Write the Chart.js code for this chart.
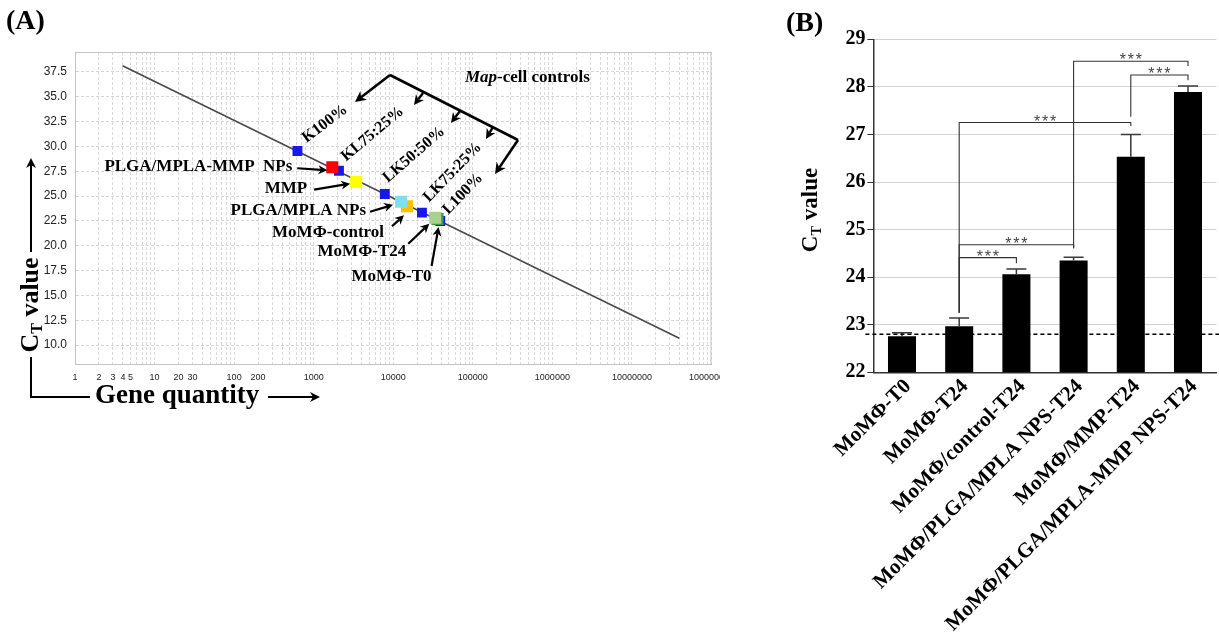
<!DOCTYPE html>
<html><head><meta charset="utf-8">
<script src="https://cdn.jsdelivr.net/npm/chart.js@4.4.1/dist/chart.umd.min.js"></script>
<style>
html,body{margin:0;padding:0;background:#fff;}
#wrap{position:relative;width:1219px;height:638px;overflow:hidden;background:#fff;}
#cA{position:absolute;left:0;top:0;}
#cB{position:absolute;left:760px;top:0;}
</style></head><body>
<div id="wrap"><canvas id="cA" width="720" height="430"></canvas><canvas id="cB" width="459" height="638"></canvas></div>
<script>
// ---------- Panel A data ----------
const controlNames = ['K100%', 'KL75:25%', 'LK50:50%', 'LK75:25%', 'L100%'];
const controlQty = [625, 2078, 7830, 22950, 38990];
const controlCt = [29.54, 27.55, 25.21, 23.33, 22.49];

const sampleNames = ['MoMΦ-T0', 'MoMΦ-T24', 'MoMΦ-control', 'PLGA/MPLA NPs', 'MMP', 'PLGA/MPLA-MMP  NPs'];
const sampleQty = [36060, 33730, 14890, 12530, 3420, 1714];
const sampleCt = [22.69, 22.82, 23.97, 24.43, 26.45, 27.90];
const sampleColors = ['#3a9a44', '#a9d18e', '#ffc000', '#7fdfec', '#ffff00', '#ff0000'];

const curveQty = [3.96, 39400000];
const curveCt = [38.12, 10.69];

const yTicksA = [10, 12.5, 15, 17.5, 20, 22.5, 25, 27.5, 30, 32.5, 35, 37.5];
const xLabelsA = [1, 2, 3, 4, 5, 10, 20, 30, 100, 200, 1000, 10000, 100000, 1000000, 10000000, 100000000];

// ---------- Panel B data ----------
const categoriesB = ['MoMΦ-T0', 'MoMΦ-T24', 'MoMΦ/control-T24', 'MoMΦ/PLGA/MPLA NPS-T24', 'MoMΦ/MMP-T24', 'MoMΦ/PLGA/MPLA-MMP NPS-T24'];
const ctMeanB = [22.76, 22.97, 24.06, 24.35, 26.53, 27.89];
const ctErrB = [0.07, 0.17, 0.11, 0.07, 0.47, 0.13];
const baselineB = 22.8;
const yTicksB = [22, 23, 24, 25, 26, 27, 28, 29];
const cmpFrom = [1, 1, 1, 3, 4];
const cmpTo = [2, 3, 4, 5, 5];
const cmpLevel = [24.41, 24.68, 27.25, 28.54, 28.25];
const cmpLeftBottom = [23.25, 23.25, 23.25, 24.61, 27.37];
const cmpRightBottom = [24.29, 24.61, 27.18, 28.44, 28.14];
const cmpLabel = ['***', '***', '***', '***', '***'];

// ---------- helpers ----------
const SERIF = '"Liberation Serif", "Times New Roman", serif';
const SANS = '"Liberation Sans", Arial, sans-serif';
function arrow(ctx, x1, y1, x2, y2, lw, head) {
  const a = Math.atan2(y2 - y1, x2 - x1);
  ctx.lineWidth = lw;
  ctx.beginPath(); ctx.moveTo(x1, y1);
  ctx.lineTo(x2 - Math.cos(a) * head * 0.7, y2 - Math.sin(a) * head * 0.7); ctx.stroke();
  ctx.beginPath(); ctx.moveTo(x2, y2);
  ctx.lineTo(x2 - head * Math.cos(a) + head * 0.5 * Math.sin(a), y2 - head * Math.sin(a) - head * 0.5 * Math.cos(a));
  ctx.lineTo(x2 - head * 0.7 * Math.cos(a), y2 - head * 0.7 * Math.sin(a));
  ctx.lineTo(x2 - head * Math.cos(a) - head * 0.5 * Math.sin(a), y2 - head * Math.sin(a) + head * 0.5 * Math.cos(a));
  ctx.closePath(); ctx.fill();
}
function drawCT(ctx, cx, cy, size) {
  ctx.save(); ctx.translate(cx, cy); ctx.rotate(-Math.PI / 2);
  const f = s => `bold ${s}px ${SERIF}`;
  ctx.font = f(size); const wC = ctx.measureText('C').width; const wV = ctx.measureText(' value').width;
  ctx.font = f(size * 0.62); const wT = ctx.measureText('T').width;
  const x0 = -(wC + wT + wV) / 2; const base = size * 0.33;
  ctx.textBaseline = 'alphabetic'; ctx.textAlign = 'left'; ctx.fillStyle = '#000';
  ctx.font = f(size); ctx.fillText('C', x0, base);
  ctx.font = f(size * 0.62); ctx.fillText('T', x0 + wC, base + size * 0.18);
  ctx.font = f(size); ctx.fillText(' value', x0 + wC + wT, base);
  ctx.restore();
}

// ---------- Panel A ----------
const ctrlLabelPos = [[9, -8, -37], [7, -9, -40], [3, -11, -41], [7, -10, -46], [8, -6, -46]];
const sampleLabelPos = [
  [-6, 58, -6, 47, 1, 8],
  [-29, 34, -27, 26, -6, 6],
  [-23, 26, -15, 20, -3, 9],
  [-35, 9, -31, 10, -8, 3],
  [-49, 7, -42, 8, -6, 2],
  [-40, -1, -35, 1, -5, 3]
];
const annotA = {
  id: 'annotA',
  beforeDatasetsDraw(chart) {
    const { ctx, chartArea: ca } = chart;
    ctx.save(); ctx.strokeStyle = '#c4c4c4'; ctx.lineWidth = 1;
    ctx.strokeRect(ca.left + 0.5, ca.top + 0.5, ca.right - ca.left - 1, ca.bottom - ca.top);
    ctx.restore();
  },
  afterDraw(chart) {
    const { ctx, chartArea: ca, scales: { x, y } } = chart;
    ctx.save();
    ctx.fillStyle = '#000'; ctx.strokeStyle = '#000';
    ctx.font = `bold 16px ${SERIF}`; ctx.textAlign = 'left'; ctx.textBaseline = 'alphabetic';
    controlNames.forEach((n, i) => {
      const px = x.getPixelForValue(controlQty[i]), py = y.getPixelForValue(controlCt[i]);
      const [dx, dy, ang] = ctrlLabelPos[i];
      ctx.save(); ctx.translate(px + dx, py + dy); ctx.rotate(ang * Math.PI / 180);
      ctx.fillText(n, 0, 0); ctx.restore();
    });
    ctx.font = `bold 17px ${SERIF}`; ctx.textAlign = 'right'; ctx.textBaseline = 'middle';
    sampleNames.forEach((n, i) => {
      const px = x.getPixelForValue(sampleQty[i]), py = y.getPixelForValue(sampleCt[i]);
      const p = sampleLabelPos[i];
      ctx.fillText(n, px + p[0], py + p[1]);
      arrow(ctx, px + p[2], py + p[3], px + p[4], py + p[5], 2.2, 9);
    });
    const L = ca.left, T = ca.top;
    ctx.lineWidth = 2.6; ctx.lineJoin = 'miter';
    ctx.beginPath(); ctx.moveTo(L + 315, T + 23); ctx.lineTo(L + 443, T + 88); ctx.stroke();
    arrow(ctx, L + 315, T + 23, L + 280, T + 50, 2.6, 11);
    arrow(ctx, L + 443, T + 88, L + 420, T + 122, 2.6, 11);
    arrow(ctx, L + 348, T + 41, L + 339, T + 53, 2.4, 10);
    arrow(ctx, L + 385, T + 59, L + 376, T + 71, 2.4, 10);
    arrow(ctx, L + 418, T + 75, L + 411, T + 87, 2.4, 10);
    ctx.textAlign = 'left'; ctx.textBaseline = 'middle';
    ctx.font = `italic bold 17px ${SERIF}`; ctx.fillText('Map', L + 390, T + 26);
    const wm = ctx.measureText('Map').width;
    ctx.font = `bold 17px ${SERIF}`; ctx.fillText('-cell controls', L + 390 + wm, T + 26);
    ctx.font = `bold 28px ${SERIF}`; ctx.textBaseline = 'middle'; ctx.fillText('(A)', 6, 22);
    drawCT(ctx, 29, 305, 26);
    ctx.lineWidth = 2;
    ctx.beginPath(); ctx.moveTo(31, 357); ctx.lineTo(31, 397); ctx.lineTo(90, 397); ctx.stroke();
    arrow(ctx, 31, 252, 31, 158, 2, 10);
    ctx.font = `bold 27px ${SERIF}`; ctx.textBaseline = 'middle';
    ctx.fillText('Gene quantity', 95, 396);
    arrow(ctx, 268, 397, 320, 397, 2, 10);
    ctx.restore();
  }
};

const xTickValsA = [];
for (let e = 0; e < 8; e++) for (let m = 1; m <= 9; m++) xTickValsA.push(m * 10 ** e);
xTickValsA.push(10 ** 8);

new Chart(document.getElementById('cA'), {
  type: 'scatter',
  data: {
    datasets: [
      {
        data: sampleQty.map((q, i) => ({ x: q, y: sampleCt[i] })),
        backgroundColor: sampleColors, pointStyle: 'rect', pointRadius: 8.5, borderWidth: 0
      },
      {
        data: controlQty.map((q, i) => ({ x: q, y: controlCt[i] })),
        backgroundColor: '#1818ee', pointStyle: 'rect', pointRadius: 7, borderWidth: 0
      },
      {
        data: curveQty.map((q, i) => ({ x: q, y: curveCt[i] })),
        showLine: true, borderColor: '#4a4a4a', borderWidth: 1.6, pointRadius: 0
      }
    ]
  },
  options: {
    responsive: false, animation: false, events: [],
    layout: { padding: { left: 0, right: 6, top: 52, bottom: 0 } },
    plugins: { legend: { display: false }, tooltip: { enabled: false } },
    scales: {
      x: {
        type: 'logarithmic', min: 1, max: 100000000,
        afterBuildTicks: s => { s.ticks = xTickValsA.map(v => ({ value: v })); },
        afterFit: s => { s.height = 66; s.paddingLeft = 0; s.paddingRight = 0; },
        ticks: {
          autoSkip: false, maxRotation: 0, minRotation: 0, padding: 8, color: '#222',
          font: { family: SANS, size: 9 },
          callback: v => xLabelsA.includes(v) ? String(v) : ''
        },
        grid: { color: '#dadada', drawTicks: false, lineWidth: 1 },
        border: { color: '#9a9a9a', width: 1, dash: [3, 2] }
      },
      y: {
        min: 8.1, max: 39.5,
        afterBuildTicks: s => { s.ticks = yTicksA.map(v => ({ value: v })); },
        afterFit: s => { s.width = 75; s.paddingTop = 0; s.paddingBottom = 0; },
        ticks: { padding: 8, color: '#222', font: { family: SANS, size: 12 }, callback: v => v.toFixed(1) },
        grid: { color: '#d6d6d6', drawTicks: false, lineWidth: 1 },
        border: { color: '#9a9a9a', width: 1, dash: [3, 2] }
      }
    }
  },
  plugins: [annotA]
});

// ---------- Panel B ----------
const annotB = {
  id: 'annotB',
  afterDatasetsDraw(chart) {
    const { ctx, chartArea: ca, scales: { x, y } } = chart;
    ctx.save();
    ctx.strokeStyle = '#3a3a3a'; ctx.lineWidth = 1.5;
    ctMeanB.forEach((m, i) => {
      const cx = x.getPixelForValue(i), y0 = y.getPixelForValue(m), y1 = y.getPixelForValue(m + ctErrB[i]);
      ctx.beginPath(); ctx.moveTo(cx, y0); ctx.lineTo(cx, y1);
      ctx.moveTo(cx - 10, y1); ctx.lineTo(cx + 10, y1); ctx.stroke();
    });
    ctx.strokeStyle = '#000'; ctx.lineWidth = 1.6; ctx.setLineDash([4, 3]);
    const yb = y.getPixelForValue(baselineB);
    ctx.beginPath(); ctx.moveTo(ca.left - 8, yb); ctx.lineTo(chart.width, yb); ctx.stroke();
    ctx.setLineDash([]);
    ctx.strokeStyle = '#333'; ctx.lineWidth = 1.1; ctx.fillStyle = '#444';
    ctx.font = `16px ${SANS}`; ctx.textAlign = 'center'; ctx.textBaseline = 'alphabetic';
    cmpFrom.forEach((a, k) => {
      const xa = x.getPixelForValue(a), xb = x.getPixelForValue(cmpTo[k]);
      const yl = y.getPixelForValue(cmpLevel[k]);
      ctx.beginPath();
      ctx.moveTo(xa, y.getPixelForValue(cmpLeftBottom[k])); ctx.lineTo(xa, yl);
      ctx.lineTo(xb, yl); ctx.lineTo(xb, y.getPixelForValue(cmpRightBottom[k]));
      ctx.stroke();
      const xm = (xa + xb) / 2;
      const n = cmpLabel[k].length;
      for (let s = 0; s < n; s++) ctx.fillText('*', xm + (s - (n - 1) / 2) * 8, yl + 4);
    });
    ctx.restore();
  },
  afterDraw(chart) {
    const { ctx } = chart;
    ctx.save(); ctx.fillStyle = '#000';
    ctx.font = `bold 28px ${SERIF}`; ctx.textAlign = 'left'; ctx.textBaseline = 'middle';
    ctx.fillText('(B)', 26, 24);
    drawCT(ctx, 49, 210, 23);
    ctx.restore();
  }
};

new Chart(document.getElementById('cB'), {
  type: 'bar',
  data: {
    labels: categoriesB,
    datasets: [{ data: ctMeanB, backgroundColor: '#000', barPercentage: 0.49, categoryPercentage: 1.0 }]
  },
  options: {
    responsive: false, animation: false, events: [],
    layout: { padding: { left: 0, right: 2.4, top: 39.3, bottom: 0 } },
    plugins: { legend: { display: false }, tooltip: { enabled: false } },
    scales: {
      x: {
        afterFit: s => { s.height = 265.7; s.paddingLeft = 0; s.paddingRight = 0; },
        ticks: { autoSkip: false, minRotation: 45, maxRotation: 45, padding: 2, labelOffset: 6, color: '#000',
          font: { family: SERIF, size: 21, weight: 'bold' } },
        grid: { display: false, drawTicks: false },
        border: { color: '#333', width: 1.5 }
      },
      y: {
        min: 22, max: 29,
        afterBuildTicks: s => { s.ticks = yTicksB.map(v => ({ value: v })); },
        afterFit: s => { s.width = 113.4; s.paddingTop = 0; s.paddingBottom = 0; },
        ticks: { padding: 2, color: '#000', font: { family: SERIF, size: 20, weight: 'bold' } },
        grid: { color: '#d2d2d2', lineWidth: 1, tickLength: 6, tickColor: '#333' },
        border: { color: '#333', width: 1.5 }
      }
    }
  },
  plugins: [annotB]
});
</script>
</body></html>
